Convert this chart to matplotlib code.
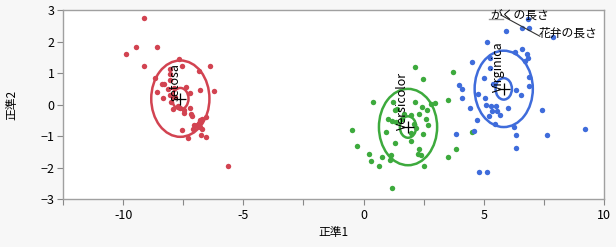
import matplotlib
matplotlib.use("Agg")
import matplotlib.pyplot as plt
from matplotlib.patches import Ellipse

plt.rcParams['font.family'] = ['Noto Sans CJK JP', 'DejaVu Sans']

# ---- data ----
groups = ["setosa", "Versicolor", "Virginica"]

setosa_x = [-9.15, -9.46, -9.86, -8.58, -9.13, -7.69, -6.40, -7.56, -6.85, -8.03,
            -8.07, -8.67, -8.40, -8.30, -8.04, -8.13, -8.61, -8.33, -8.07, -7.90,
            -7.38, -6.82, -6.24, -7.21, -8.00, -7.83, -7.94, -7.70, -7.62, -7.48,
            -7.47, -7.21, -7.19, -7.15, -6.57, -6.79, -6.72, -6.85, -6.92, -7.00,
            -7.08, -7.05, -6.82, -6.72, -7.57, -7.32, -6.76, -6.54, -5.65]
setosa_y = [2.74, 1.83, 1.59, 1.84, 1.22, 1.45, 1.24, 1.21, 1.06, 1.13,
            0.97, 0.86, 0.65, 0.65, 0.78, 0.51, 0.41, 0.22, 0.30, 0.53,
            0.57, 0.46, 0.44, 0.36, 0.09, 0.25, -0.15, -0.05, -0.12, -0.18,
            -0.27, -0.10, -0.30, -0.37, -0.39, -0.50, -0.46, -0.58, -0.65, -0.69,
            -0.76, -0.66, -0.70, -0.76, -0.81, -1.06, -0.97, -1.01, -1.93]

versicolor_x = [2.13, 2.49, 3.74, 0.39, 1.22, 1.40, 1.30, 2.13, 2.44, 2.63,
                2.79, 2.96, 3.53, 1.96, 2.31, 2.58, 1.01, 1.19, 1.33, 2.68,
                -0.47, 0.92, 1.96, 2.47, -0.29, 1.29, 1.99, 2.31, 0.22, 0.78,
                1.13, 1.10, 0.32, 0.64, 2.26, 2.40, 2.51, 3.53, 3.86, 4.53,
                1.19, 2.10, 1.60, 1.70, 2.20]
versicolor_y = [1.20, 0.80, 1.05, 0.09, 0.07, -0.15, -0.18, 0.09, -0.09, -0.17,
                0.02, 0.04, 0.16, -0.33, -0.31, -0.46, -0.47, -0.51, -0.55, -0.65,
                -0.79, -0.88, -0.89, -0.94, -1.32, -1.20, -1.15, -1.41, -1.58, -1.66,
                -1.60, -1.74, -1.79, -1.94, -1.57, -1.60, -1.94, -1.66, -1.39, -0.88,
                -2.63, -0.60, -0.45, -0.30, -0.75]

virginica_x = [5.92, 6.57, 6.89, 6.85, 7.86, 5.15, 4.49, 5.24, 6.29, 6.61,
               6.79, 6.85, 6.71, 5.25, 4.99, 3.97, 4.11, 5.40, 6.33, 6.54,
               6.86, 6.89, 4.74, 5.04, 4.11, 4.43, 5.11, 5.29, 5.50, 5.33,
               5.54, 5.99, 5.22, 5.67, 4.71, 5.46, 4.60, 6.26, 3.83, 6.36,
               6.36, 4.81, 5.13, 7.44, 7.63, 9.21]
virginica_y = [2.34, 2.44, 2.42, 2.71, 2.13, 1.99, 1.36, 1.47, 1.66, 1.75,
               1.62, 1.47, 1.39, 1.15, 0.83, 0.62, 0.51, 0.65, 0.46, 0.30,
               0.88, 0.59, 0.35, 0.20, 0.20, -0.12, -0.02, -0.04, -0.05, -0.20,
               -0.21, -0.10, -0.37, -0.33, -0.49, -0.60, -0.85, -0.70, -0.94, -0.97,
               -1.36, -2.15, -2.13, -0.17, -0.97, -0.76]

mean_x = [-7.62, 1.85, 5.83]
mean_y = [0.19, -0.71, 0.50]
outer_radius = 1.21
inner_radius = 0.34

ray_labels = ["がくの長さ", "花弁の長さ"]
ray_label_x = [5.25, 7.29]
ray_label_y = [2.84, 2.26]

colors = ["#D24351", "#3DAA3D", "#3F6CDB"]

# ---- figure ----
fig = plt.figure(figsize=(6.16, 2.47), dpi=100, facecolor="#F7F7F7")
ax = fig.add_axes([63/616, 1 - 199.3/247, (604-63)/616, (199.3-10)/247])
ax.set_facecolor("white")

xs = [setosa_x, versicolor_x, virginica_x]
ys = [setosa_y, versicolor_y, virginica_y]
for i, g in enumerate(groups):
    ax.plot(xs[i], ys[i], 'o', ms=3.9, color=colors[i], mew=0, zorder=3)
    for r in (outer_radius, inner_radius):
        ax.add_patch(Ellipse((mean_x[i], mean_y[i]), 2*r, 2*r, fill=False,
                             ec=colors[i], lw=1.8, zorder=4))
    ax.plot(mean_x[i], mean_y[i], '+', ms=8, color='black', mew=0.9, zorder=5)
    ax.annotate(g, (mean_x[i], mean_y[i]), xytext=(1, -2), textcoords='offset points',
                rotation=90, ha='right', va='bottom', fontsize=9, color='black',
                zorder=6)

# biplot ray segments and labels
ax.plot([5.22, 5.80], [2.73, 2.73], color="#999999", lw=1.0, zorder=5)
ax.plot([5.71, 7.33], [2.84, 2.17], color="#333333", lw=0.8, zorder=5)
for lab, lx, ly in zip(ray_labels, ray_label_x, ray_label_y):
    ax.text(lx, ly, lab, ha='left', va='center', fontsize=8.5, color='black', zorder=6)

ax.set_xlim(-12.5, 10)
ax.set_ylim(-3, 3)
ax.set_xticks([-12.5, -10, -7.5, -5, -2.5, 0, 2.5, 5, 7.5, 10])
ax.set_xticklabels(["", "-10", "", "-5", "", "0", "", "5", "", "10"])
ax.set_yticks([-3, -2, -1, 0, 1, 2, 3])
ax.tick_params(axis='both', colors='#888888', labelcolor='black', labelsize=9,
               length=4, width=0.8)
ax.tick_params(axis='x', pad=3)
ax.tick_params(axis='y', pad=2)
for sp in ax.spines.values():
    sp.set_color("#A0A0A0")
    sp.set_linewidth(1.0)

ax.set_xlabel("正準1", fontsize=8.5, labelpad=3)
ax.set_ylabel("正準2", fontsize=8.5, labelpad=16)

fig.savefig("out.png", dpi=100, facecolor=fig.get_facecolor())
